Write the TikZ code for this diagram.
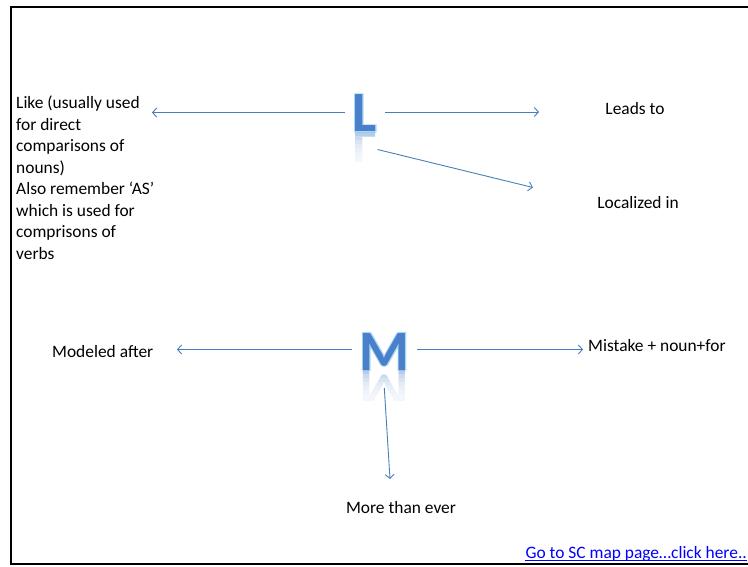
\documentclass[tikz,border=0pt]{standalone}
\usepackage{fontspec}
\setmainfont{Carlito}
\newfontfamily\glowfont{Carlito}[FakeBold=4]
\usetikzlibrary{arrows.meta}
\definecolor{lineblue}{HTML}{4A7EBB}
\definecolor{letterblue}{HTML}{4A7FCB}
\definecolor{glowblue}{HTML}{A8DCF2}
\definecolor{linkblue}{HTML}{0000FF}
\newcommand{\drawbigletter}[5]{%
  \node[bigl,text=glowblue,font=\fontsize{57}{57}\glowfont\bfseries] at (#2,#3) {#4};
  \node[bigl,text=letterblue] (#1) at (#2,#3) {#4};
  \begin{scope}
    \clip (#2-5,#3+0.5) rectangle (#2+#5,#3+30);
    \node[bigl,text=letterblue,opacity=0.55,yscale=-1] at (#2,#3) {#4};
  \end{scope}
  \foreach \k in {0,...,6}{
    \fill[white,opacity=0.28] (#2-5,#3+\k*4) rectangle (#2+#5,#3+31);}
}
\begin{document}
\begin{tikzpicture}[x=1pt,y=-1pt,
  conn/.style={draw=lineblue,line width=0.9pt,-{Straight Barb[length=4pt,width=9pt]}},
  lbl/.style={font=\fontsize{17.4}{21.5}\selectfont,inner sep=0pt},
  bigl/.style={font=\fontsize{57}{57}\selectfont\bfseries,inner sep=0pt,anchor=base west},
  frame/.style={line width=2pt,black}]
\useasboundingbox (0,0) rectangle (748,566);
% frame
\draw[frame] (748,7) -- (11,7) -- (11,564) -- (748,564);
% big letters
\drawbigletter{L}{352}{131.5}{L}{32}
\drawbigletter{M}{359}{370}{M}{55}
% labels
\node[lbl,anchor=north west,align=left] (like) at (16,96) {Like (usually used\\for direct\\comparisons of\\nouns)\\Also remember ‘AS’\\which is used for\\comprisons of\\verbs};
\node[lbl,anchor=base] (leads) at (635,114) {Leads to};
\node[lbl,anchor=base] (local) at (638,208) {Localized in};
\node[lbl,anchor=base west] (model) at (52,357) {Modeled after};
\node[lbl,anchor=base west] (mist) at (588,351.5) {Mistake + noun+for};
\node[lbl,anchor=base] (more) at (401,513) {More than ever};
\node[lbl,anchor=base east,text=linkblue] (link) at (747,558.5) {Go to SC map page…click here..};
\draw[linkblue,line width=1pt] ([yshift=-2pt]link.base west) -- ([yshift=-2pt]link.base east);
% connector end points
\coordinate (l1s) at (345,112.5);  \coordinate (l1e) at (152,112.5);
\coordinate (l2s) at (385,112);    \coordinate (l2e) at (539,112);
\coordinate (l3s) at (377.5,149.5);\coordinate (l3e) at (533,187.5);
\coordinate (m1s) at (352,349.5);  \coordinate (m1e) at (177,349.5);
\coordinate (m2s) at (417,349.5);  \coordinate (m2e) at (583,349.5);
\coordinate (m3s) at (384.3,388);  \coordinate (m3e) at (390,479);
\draw[conn] (l1s) -- (l1e);
\draw[conn] (l2s) -- (l2e);
\draw[conn] (l3s) -- (l3e);
\draw[conn] (m1s) -- (m1e);
\draw[conn] (m2s) -- (m2e);
\draw[conn] (m3s) -- (m3e);
\end{tikzpicture}
\end{document}
